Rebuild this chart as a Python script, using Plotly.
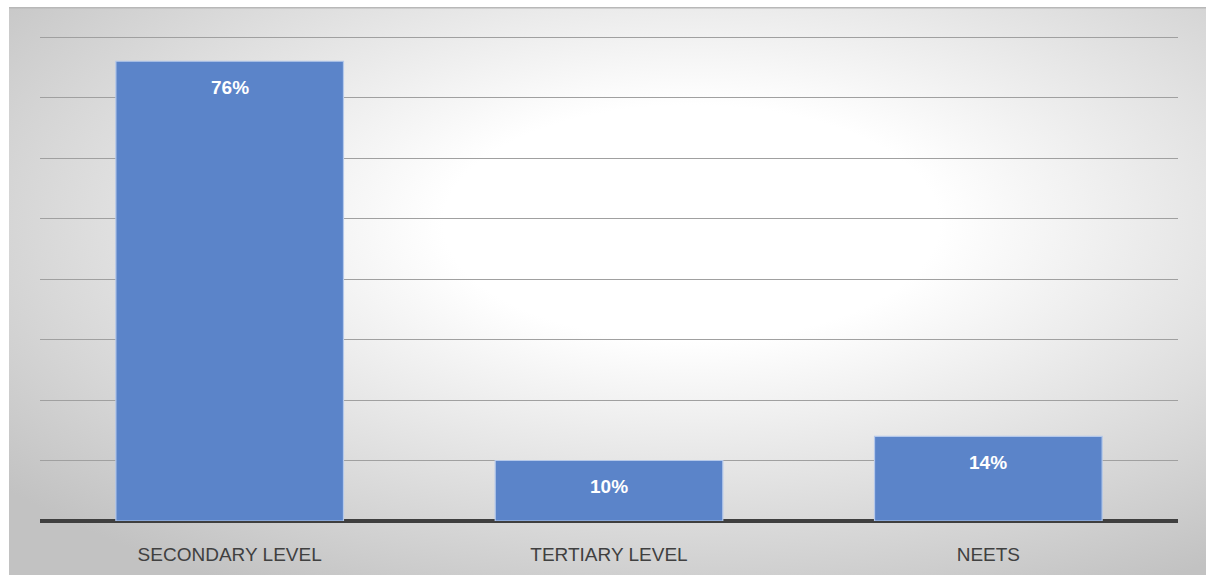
import base64
import plotly.graph_objects as go

categories = ["SECONDARY LEVEL", "TERTIARY LEVEL", "NEETS"]
values = [76, 10, 14]
labels = ["76%", "10%", "14%"]

svg = """<svg xmlns='http://www.w3.org/2000/svg' width='1197' height='568' viewBox='0 0 1197 568' preserveAspectRatio='none'>
<defs><radialGradient id='g' cx='0.57' cy='0.38' r='0.74'>
<stop offset='0' stop-color='#ffffff'/>
<stop offset='0.28' stop-color='#ffffff'/>
<stop offset='1' stop-color='#c2c2c2'/>
</radialGradient></defs>
<rect x='0' y='0' width='1197' height='568' fill='url(#g)'/>
<rect x='0' y='0' width='1197' height='1.5' fill='#b8b8b8'/>
</svg>"""
src = "data:image/svg+xml;base64," + base64.b64encode(svg.encode()).decode()

fig = go.Figure()
fig.add_trace(go.Bar(
    x=categories, y=values,
    marker=dict(color="#5b84c9", line=dict(color="#b4c8ea", width=1.2)),
    width=0.6, hoverinfo="skip",
))

for c, v, t in zip(categories, values, labels):
    fig.add_annotation(x=c, y=v, text="<b>%s</b>" % t, showarrow=False,
                       yshift=-26, font=dict(family="Liberation Sans, Arial", size=19, color="white"))

L, R, T, B = 40, 28, 31, 57
W, H = 1206, 578
pw, ph = W - L - R, H - T - B
x0 = (9 - L) / pw
y1 = (H - B - 7) / ph
y0 = (H - B - 575) / ph
fig.add_layout_image(dict(source=src, xref="paper", yref="paper", x=x0, y=y1,
                          sizex=(W - 9) / pw, sizey=y1 - y0, sizing="stretch",
                          xanchor="left", yanchor="top", layer="below"))

fig.update_layout(
    width=W, height=H, margin=dict(l=L, r=R, t=T, b=B),
    paper_bgcolor="white", plot_bgcolor="rgba(0,0,0,0)",
    showlegend=False,
    xaxis=dict(showgrid=False, showline=False, ticks="", zeroline=False,
               ticklabelstandoff=20,
               tickfont=dict(family="Liberation Sans, Arial", size=19, color="#404040")),
    yaxis=dict(range=[0, 81], tickvals=[10, 20, 30, 40, 50, 60, 70, 80], showgrid=True,
               gridcolor="#a0a0a0", gridwidth=1.3,
               showticklabels=False, zeroline=True, zerolinecolor="#3f3f3f", zerolinewidth=3.5,
               showline=False, ticks=""),
)
fig.write_html("out.html")
